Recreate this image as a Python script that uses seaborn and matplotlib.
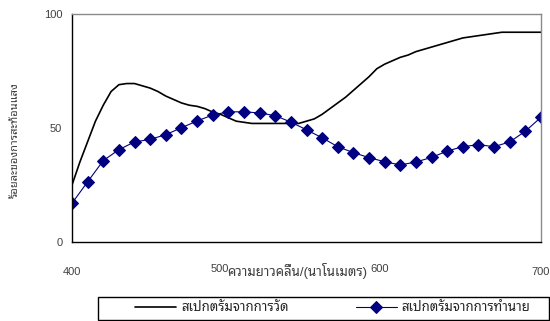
import matplotlib
matplotlib.use("Agg")
import numpy as np
import pandas as pd
import matplotlib.pyplot as plt
import matplotlib.transforms as mtransforms
from matplotlib.patches import Rectangle
import seaborn as sns

# measured spectrum (black line)
wl_meas = [400, 405, 410, 415, 420, 425, 430, 435, 440, 445, 450, 455, 460, 465,
           470, 475, 480, 485, 490, 495, 500, 505, 510, 515, 520, 525, 530, 535,
           540, 545, 550, 555, 560, 565, 570, 575, 580, 585, 590, 595, 600, 605,
           610, 615, 620, 625, 630, 635, 640, 645, 650, 655, 660, 665, 670, 675,
           680, 690, 700]
refl_meas = [25, 35, 44, 53, 60, 66, 69, 69.5, 69.5, 68.5, 67.5, 66, 64, 62.5,
             61, 60, 59.5, 58.5, 57, 56, 54.5, 53, 52.5, 52, 52, 52, 52, 52,
             52, 52, 53, 54, 56, 58.5, 61, 63.5, 66.5, 69.5, 72.5, 76, 78, 79.5,
             81, 82, 83.5, 84.5, 85.5, 86.5, 87.5, 88.5, 89.5, 90, 90.5, 91, 91.5, 92,
             92, 92, 92]

# predicted spectrum (blue diamonds)
wl_pred = list(range(400, 701, 10))
refl_pred = [17.0, 26.4, 35.7, 40.5, 43.9, 45.0, 47.1, 50.1, 53.1, 55.7, 57.1,
             57.1, 56.6, 55.4, 52.6, 49.2, 45.7, 41.8, 39.2, 37.0, 35.2, 33.8,
             35.1, 37.1, 39.9, 41.8, 42.7, 41.8, 43.9, 48.6, 54.7]

label_meas = "สเปกตรัมจากการวัด"
label_pred = "สเปกตรัมจากการทำนาย"
xlabel = "ความยาวคลื่น/(นาโนเมตร)"
ylabel = "ร้อยละของการสะท้อนแสง"

sns.set_style("white")
plt.rcParams["font.family"] = ["Liberation Sans", "Noto Sans Thai Looped", "DejaVu Sans"]

fig = plt.figure(figsize=(5.5, 3.21), dpi=100)
ax = fig.add_axes([72/550, 1-242/321, 469/550, 228/321])

df_m = pd.DataFrame({"wl": wl_meas, "r": refl_meas})
df_p = pd.DataFrame({"wl": wl_pred, "r": refl_pred})
sns.lineplot(data=df_m, x="wl", y="r", ax=ax, color="black", lw=1.2,
             label=label_meas, legend=False)
sns.lineplot(data=df_p, x="wl", y="r", ax=ax, color="#000080", lw=0.8,
             marker="D", markersize=5.8, markeredgecolor="#000080",
             label=label_pred, legend=False)

ax.set_xlim(400, 700)
ax.set_ylim(0, 100)
ax.set_xticks([400, 500, 600, 700])
ax.set_yticks([0, 50, 100])
ax.tick_params(axis="both", direction="out", length=4, width=0.8,
               labelsize=8, labelcolor="#404040", color="black")
ax.tick_params(axis="x", pad=14)
ax.tick_params(axis="y", pad=3)
for s in ["left", "bottom"]:
    ax.spines[s].set_color("black")
    ax.spines[s].set_linewidth(1)
for s in ["top", "right"]:
    ax.spines[s].set_color("#8a8a8a")
    ax.spines[s].set_linewidth(1)

# the middle tick labels sit a bit left/up, squeezed around the axis title
for lab, dx, dy in zip(ax.get_xticklabels(), [0, -9, -5, 0], [0, 3, 3, 0]):
    lab.set_transform(lab.get_transform() +
                      mtransforms.ScaledTranslation(dx/100, dy/100, fig.dpi_scale_trans))

ax.set_xlabel(xlabel, fontsize=9.5, color="#404040", va="center")
ax.xaxis.set_label_coords((297-72)/469, (242-271)/228)
ax.set_ylabel(ylabel, fontsize=8, color="#404040", va="center")
ax.yaxis.set_label_coords((15-72)/469, (242-140)/228)

# legend frame + entries
fig.patches.append(Rectangle((98/550, 1/321), 451/550, 23/321, transform=fig.transFigure,
                             fill=False, edgecolor="black", lw=1))
h, l = ax.get_legend_handles_labels()
fig.legend(h, l, loc="center left", bbox_to_anchor=(135/550, 1-308/321),
           ncol=2, frameon=False, fontsize=9.5, borderpad=0, borderaxespad=0,
           handlelength=3.1, handletextpad=0.38, columnspacing=5.1)

fig.savefig("out.png", dpi=100)
